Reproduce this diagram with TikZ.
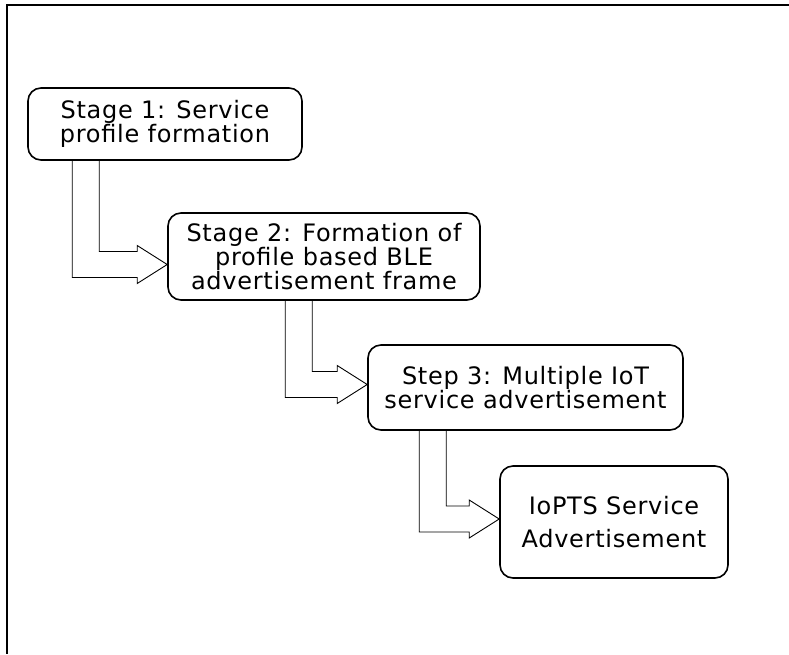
\documentclass[tikz,border=0pt]{standalone}
\usepackage{fontspec}
\setmainfont[LetterSpace=3]{DejaVu Sans}
\usetikzlibrary{calc}

% block arrow from the bottom of #1 to the left side of #2
% #3: x offset of the shaft from #1.south west, #4: y shift of the tip
\newcommand\stagearrow[4]{%
  \draw[blockarrow] ($(#1.south west)+(#3,0)$) coordinate (sa)
    -- ($(sa|-#2.west)+(0,#4+13)$) -- ($(#2.west)+(-30,#4+13)$)
    -- ($(#2.west)+(-30,#4+19)$) -- ($(#2.west)+(0,#4)$)
    -- ($(#2.west)+(-30,#4-19)$) -- ($(#2.west)+(-30,#4-13)$)
    -- ($(sa|-#2.west)+(27,#4-13)$) -- ($(sa)+(27,0)$);}

\begin{document}
\begin{tikzpicture}[x=1pt,y=-1pt,
    stage/.style={rectangle,draw,line width=1.6pt,rounded corners=13pt,align=center,
      inner sep=0pt,font=\fontsize{24}{23}\selectfont},
    blockarrow/.style={draw,line width=0.9pt,line join=miter}]
    \useasboundingbox (0,0) rectangle (789,654);
    \draw[line width=1.6pt] (789,5) -- (7,5) -- (7,654);
    \node[stage,minimum width=274pt,minimum height=72pt] (s1) at (165,124)
      {Stage 1: Service\\profile formation};
    \node[stage,minimum width=312pt,minimum height=87pt] (s2) at (324,256.5)
      {Stage 2: Formation of\\profile based BLE\\advertisement frame};
    \node[stage,minimum width=315pt,minimum height=85pt] (s3) at (525.5,387.5)
      {Step 3: Multiple IoT\\service advertisement};
    \node[stage,minimum width=228pt,minimum height=112pt,
      font=\fontsize{24}{33}\selectfont] (s4) at (614,522)
      {IoPTS Service\\Advertisement};
    \stagearrow{s1}{s2}{45}{8}
    \stagearrow{s2}{s3}{118}{-3}
    \stagearrow{s3}{s4}{52}{-3}
\end{tikzpicture}
\end{document}
